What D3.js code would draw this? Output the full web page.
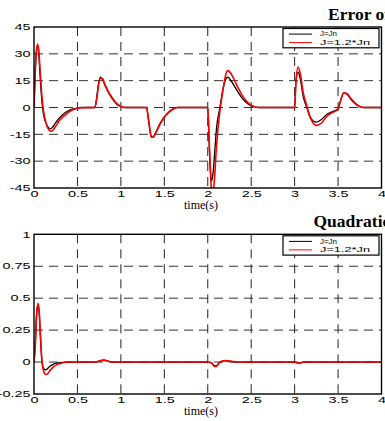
<html lang="en">
<head>
<meta charset="utf-8">
<title>Error and quadratic index</title>
<script src="https://cdn.jsdelivr.net/npm/d3@7"></script>
<style>
    body { margin: 0; background: #fff; }
    svg { display: block; }
</style>
</head>
<body>
<script>
// time axis and tick labels
var xTicks = [0, 0.5, 1, 1.5, 2, 2.5, 3, 3.5, 4];
var xTickLabels = ["0", "0.5", "1", "1.5", "2", "2.5", "3", "3.5", "4"];

// upper panel: error
var errTicks = [-45, -30, -15, 0, 15, 30, 45];
var errTickLabels = ["-45", "-30", "-15", "0", "15", "30", "45"];
var tErr = [0, 0.01, 0.025, 0.04, 0.055, 0.07, 0.09, 0.11, 0.14, 0.17,
            0.19, 0.21, 0.25, 0.3, 0.35, 0.4, 0.45, 0.5, 0.55, 0.7,
            0.72, 0.745, 0.765, 0.79, 0.82, 0.85, 0.9, 0.95, 1.0, 1.05,
            1.295, 1.32, 1.35, 1.37, 1.4, 1.45, 1.5, 1.55, 1.6, 1.65,
            2.0, 2.015, 2.03, 2.045, 2.06, 2.08, 2.1, 2.14, 2.17, 2.2,
            2.23, 2.26, 2.3, 2.35, 2.4, 2.45, 2.5, 2.55, 2.6, 3.0,
            3.015, 3.04, 3.065, 3.1, 3.14, 3.18, 3.25, 3.3, 3.38, 3.45,
            3.5, 3.53, 3.565, 3.6, 3.65, 3.7, 3.75, 3.8, 4.0];
var errJn = [0, 15, 30, 34.5, 30, 18, 4, -4, -9, -11.5,
             -11.9, -11.2, -8.5, -5.4, -3.2, -1.7, -0.8, -0.3, 0, 0,
             5, 14, 17, 15.5, 12, 9, 5, 2, 0.5, 0,
             0, -8, -16.6, -16.5, -14, -9, -5.2, -2.6, -0.8, 0,
             0, -18, -35, -41, -37, -25, -12, 0, 9, 15,
             17, 15.5, 12.5, 8.5, 5, 2.5, 1, 0.2, 0, 0,
             14, 19.8, 16, 6, 0, -5.5, -8.2, -7, -3.5, -2,
             -0.7, 4, 8.2, 7.5, 4.5, 2, 0.5, 0, 0];
var errJ12 = [0, 14, 30, 35.5, 32, 21, 7, -2, -9, -12.5,
              -13.3, -13, -10.5, -6.9, -4.5, -2.5, -1.2, -0.5, -0.1, 0,
              4, 13, 16.5, 16, 12.5, 9.5, 5.5, 2.3, 0.6, 0,
              0, -7, -16, -16.8, -14.5, -9.5, -5.5, -2.8, -1, 0,
              0, -16, -35, -47, -48, -38, -22, -2, 8, 17,
              20.6, 19.5, 16, 11, 6.5, 3.3, 1.3, 0.3, 0, 0,
              14, 22.6, 19, 8, 1, -5.5, -10, -9, -4.5, -2.5,
              -0.8, 4, 8.2, 7.8, 5, 2.3, 0.6, 0, 0];

// lower panel: quadratic index
var quadTicks = [-0.25, 0, 0.25, 0.5, 0.75, 1];
var quadTickLabels = ["-0.25", "0", "0.25", "0.5", "0.75", "1"];
var tQuad = [0, 0.015, 0.03, 0.045, 0.06, 0.075, 0.09, 0.11, 0.13, 0.15,
             0.18, 0.22, 0.27, 0.33, 0.4, 0.7, 0.8, 0.9, 2.0, 2.04,
             2.08, 2.1, 2.14, 2.2, 2.3, 2.4, 3.0, 3.05, 3.1, 4.0];
var quadJn = [0, 0.15, 0.38, 0.45, 0.38, 0.18, 0.02, -0.05, -0.06, -0.055,
              -0.035, -0.018, -0.008, -0.002, 0, 0, 0.015, 0, 0, -0.005,
              -0.03, -0.028, 0, 0.01, 0.002, 0, 0, -0.008, 0, 0];
var quadJ12 = [0, 0.13, 0.36, 0.46, 0.4, 0.2, 0.02, -0.07, -0.095, -0.095,
               -0.07, -0.04, -0.018, -0.006, 0, 0, 0.015, 0, 0, -0.005,
               -0.035, -0.033, 0, 0.012, 0.003, 0, 0, -0.01, 0, 0];

var legendLabels = ["J=Jn", "J=1.2*Jn"];
var colors = ["#000000", "#ff0000"];

var w = 385;
var h = 421;
var sx = 1.7;   // tick labels are stretched wide in the original

var svg = d3.select("body")
        .append("svg")
        .attr("width", w)
        .attr("height", h);

var x = d3.scaleLinear().domain([0, 4]).range([34, 381.5]);

function drawPanel(p) {
    var y = d3.scaleLinear().domain(p.domain).range([p.bottom, p.top]);
    var g = svg.append("g");

    g.append("clipPath")
            .attr("id", p.id)
            .append("rect")
            .attr("x", x(0))
            .attr("y", p.top)
            .attr("width", x(4) - x(0))
            .attr("height", p.bottom - p.top);

    // dashed grid
    g.selectAll("line.vg")
            .data(xTicks.slice(1, -1))
            .enter()
            .append("line")
            .attr("x1", function(d) { return x(d); })
            .attr("x2", function(d) { return x(d); })
            .attr("y1", p.top)
            .attr("y2", p.bottom)
            .attr("stroke", "#222")
            .attr("stroke-dasharray", "9,6");
    g.selectAll("line.hg")
            .data(p.ticks.slice(1, -1))
            .enter()
            .append("line")
            .attr("x1", x(0))
            .attr("x2", x(4))
            .attr("y1", function(d) { return y(d); })
            .attr("y2", function(d) { return y(d); })
            .attr("stroke", "#333")
            .attr("stroke-dasharray", "9,6");

    // curves
    var series = [p.s1, p.s2];
    series.forEach(function(s, k) {
        var line = d3.line()
                .x(function(d, i) { return x(p.t[i]); })
                .y(function(d) { return y(d); })
                .curve(d3.curveMonotoneX);
        g.append("path")
                .attr("d", line(s))
                .attr("fill", "none")
                .attr("stroke", colors[k])
                .attr("stroke-width", k == 0 ? 1.3 : 1.6)
                .attr("clip-path", "url(#" + p.id + ")");
    });

    // frame
    g.append("rect")
            .attr("x", x(0))
            .attr("y", p.top)
            .attr("width", x(4) - x(0))
            .attr("height", p.bottom - p.top)
            .attr("fill", "none")
            .attr("stroke", "#000")
            .attr("stroke-width", 1.4);

    // axes
    var xa = g.append("g")
            .attr("transform", "translate(0," + p.bottom + ")")
            .call(d3.axisBottom(x)
                    .tickValues(xTicks)
                    .tickFormat(function(d, i) { return xTickLabels[i]; })
                    .tickSize(0)
                    .tickPadding(3));
    var ya = g.append("g")
            .attr("transform", "translate(" + x(0) + ",0)")
            .call(d3.axisLeft(y)
                    .tickValues(p.ticks)
                    .tickFormat(function(d, i) { return p.labels[i]; })
                    .tickSize(0));
    [xa, ya].forEach(function(a) {
        a.select(".domain").remove();
        a.attr("font-family", "'Liberation Sans', Arial, sans-serif")
                .attr("font-size", 8.5);
        a.selectAll("text")
                .attr("fill", "#000")
                .attr("transform", "scale(" + sx + ",1)");
    });
    ya.selectAll("text").attr("x", -3.5 / sx);

    // axis title and panel title
    g.append("text")
            .text("time(s)")
            .attr("x", 201)
            .attr("y", p.bottom + 21)
            .attr("text-anchor", "middle")
            .attr("font-family", "'Liberation Serif', 'Times New Roman', serif")
            .attr("font-size", "12px");
    g.append("text")
            .text(p.title)
            .attr("x", p.titleX)
            .attr("y", p.top - 7.5)
            .attr("font-family", "'Liberation Serif', 'Times New Roman', serif")
            .attr("font-weight", "bold")
            .attr("font-size", "17.5px");

    // legend
    var lg = g.append("g").attr("transform", "translate(283," + (p.top + 1.5) + ")");
    lg.append("rect")
            .attr("width", 96)
            .attr("height", 19.3)
            .attr("fill", "#fff")
            .attr("stroke", "#000")
            .attr("stroke-width", 1.2);
    lg.selectAll("line")
            .data(legendLabels)
            .enter()
            .append("line")
            .attr("x1", 6)
            .attr("x2", 29)
            .attr("y1", function(d, i) { return 5.6 + i * 8.5; })
            .attr("y2", function(d, i) { return 5.6 + i * 8.5; })
            .attr("stroke", function(d, i) { return colors[i]; })
            .attr("stroke-width", 1);
    lg.selectAll("text")
            .data(legendLabels)
            .enter()
            .append("text")
            .text(function(d) { return d; })
            .attr("x", 37)
            .attr("y", function(d, i) { return 7.8 + i * 8.5; })
            .attr("textLength", function(d, i) { return i == 0 ? 17 : 50; })
            .attr("lengthAdjust", "spacingAndGlyphs")
            .attr("font-family", "'Liberation Sans', Arial, sans-serif")
            .attr("font-size", "7.5px");
}

drawPanel({
    id: "clipErr", top: 27, bottom: 188, domain: [-45, 45],
    ticks: errTicks, labels: errTickLabels,
    t: tErr, s1: errJn, s2: errJ12,
    title: "Error of speed", titleX: 328
});
drawPanel({
    id: "clipQuad", top: 234.3, bottom: 394, domain: [-0.25, 1],
    ticks: quadTicks, labels: quadTickLabels,
    t: tQuad, s1: quadJn, s2: quadJ12,
    title: "Quadratic index", titleX: 313.5
});
</script>
</body>
</html>
